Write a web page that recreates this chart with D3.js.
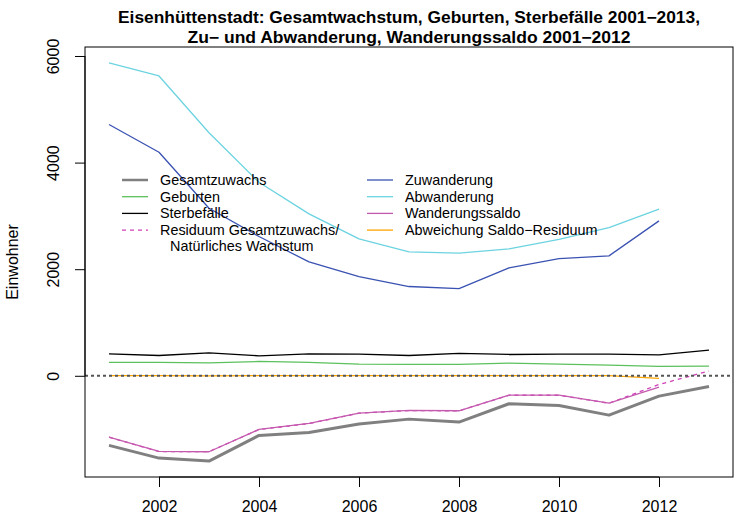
<!DOCTYPE html>
<html>
<head>
<meta charset="utf-8">
<script src="https://cdn.jsdelivr.net/npm/d3@7"></script>
<style>
  body { margin: 0; background: #fff; }
  svg { font-family: "Liberation Sans", Arial, sans-serif; }
</style>
</head>
<body>
<div id="chart"></div>
<script>
// Jahre
const jahre = [2001, 2002, 2003, 2004, 2005, 2006, 2007, 2008, 2009, 2010, 2011, 2012, 2013];
const jahreWanderung = jahre.slice(0, 12);

// Werte
const gesamtzuwachs = [-1306, -1544, -1600, -1119, -1063, -906, -813, -869, -525, -556, -738, -381, -200];
const geburten      = [250, 250, 244, 269, 250, 219, 213, 213, 238, 219, 200, 175, 181];
const sterbefaelle  = [412, 381, 431, 375, 412, 406, 381, 419, 400, 406, 406, 394, 481];
const residuum      = [-1152, -1421, -1423, -1008, -896, -702, -652, -658, -365, -365, -515, -163, 90];
const zuwanderung   = [4715, 4194, 3144, 2613, 2137, 1862, 1675, 1637, 2025, 2200, 2250, 2906];
const abwanderung   = [5870, 5625, 4560, 3630, 3037, 2569, 2325, 2300, 2381, 2560, 2782, 3125];
const saldo         = [-1150, -1419, -1425, -1006, -894, -700, -650, -656, -363, -363, -513, -213];
const abweichung    = [2, 2, -2, 2, 2, 2, 2, 2, 2, 2, 2, -50];

const xTicks = [2002, 2004, 2006, 2008, 2010, 2012];
const yTicks = [0, 2000, 4000, 6000];

const legendeLinks  = ["Gesamtzuwachs", "Geburten", "Sterbefälle", "Residuum Gesamtzuwachs/"];
const legendeRechts = ["Zuwanderung", "Abwanderung", "Wanderungssaldo", "Abweichung Saldo\u2212Residuum"];

const W = 742, H = 525;
const pLeft = 85, pRight = 733, pTop = 47, pBottom = 477;

let svg = d3.select("#chart").append("svg")
  .attr("width", W).attr("height", H);

// R-artige Achsen (4% Rand)
let xPad = (2013 - 2001) * 0.04;
let xScale = d3.scaleLinear()
  .domain([2001 - xPad, 2013 + xPad])
  .range([pLeft, pRight]);

let alle = [].concat(gesamtzuwachs, geburten, sterbefaelle, residuum, zuwanderung, abwanderung, saldo, abweichung);
let yMin = d3.min(alle), yMax = d3.max(alle);
let yPad = (yMax - yMin) * 0.04;
let yScale = d3.scaleLinear()
  .domain([yMin - yPad, yMax + yPad])
  .range([pBottom, pTop]);

// Linien
function zeichne(xs, werte, farbe, breite, dash) {
  let line = d3.line()
    .x((d, i) => xScale(xs[i]))
    .y(d => yScale(d));
  svg.append("path")
    .datum(werte)
    .attr("fill", "none")
    .attr("stroke", farbe)
    .attr("stroke-width", breite)
    .attr("stroke-linejoin", "round")
    .attr("stroke-dasharray", dash || null)
    .attr("d", line);
}

const farben = {
  gesamt: "#808080",
  geb: "#5CC15C",
  sterb: "#000000",
  resid: "#D040B8",
  zu: "#3A52B2",
  ab: "#6CD3E0",
  saldo: "#C45AAE",
  abw: "#FFA500"
};

zeichne(jahre, gesamtzuwachs, farben.gesamt, 3);
zeichne(jahre, geburten, farben.geb, 1.3);
zeichne(jahre, sterbefaelle, farben.sterb, 1.3);
zeichne(jahre, residuum, farben.resid, 1.3, "4,4");
zeichne(jahreWanderung, zuwanderung, farben.zu, 1.3);
zeichne(jahreWanderung, abwanderung, farben.ab, 1.3);
zeichne(jahreWanderung, saldo, farben.saldo, 1.3);
zeichne(jahreWanderung, abweichung, farben.abw, 1.3);

// Nulllinie gepunktet
svg.append("line")
  .attr("x1", pLeft).attr("x2", pRight)
  .attr("y1", yScale(0)).attr("y2", yScale(0))
  .attr("stroke", "#555")
  .attr("stroke-width", 2)
  .attr("stroke-dasharray", "3,3");

// Rahmen
svg.append("rect")
  .attr("x", pLeft).attr("y", pTop)
  .attr("width", pRight - pLeft).attr("height", pBottom - pTop)
  .attr("fill", "none").attr("stroke", "#000").attr("stroke-width", 1);

// x-Achse
let xAxis = svg.append("g")
  .attr("transform", "translate(0," + pBottom + ")")
  .call(d3.axisBottom(xScale).tickValues(xTicks)
    .tickFormat(d3.format("d")).tickSize(10).tickPadding(14));
xAxis.select(".domain").attr("d", "M" + xScale(xTicks[0]) + ",0H" + xScale(xTicks[xTicks.length - 1]));
xAxis.selectAll("text").style("font-size", "16px").attr("fill", "#000");

// y-Achse
let yAxis = svg.append("g")
  .attr("transform", "translate(" + pLeft + ",0)")
  .call(d3.axisLeft(yScale).tickValues(yTicks).tickFormat(d3.format("d")).tickSize(10));
yAxis.select(".domain").attr("d", "M0," + yScale(yTicks[0]) + "V" + yScale(yTicks[yTicks.length - 1]));
yAxis.selectAll("text")
  .style("font-size", "16px")
  .attr("fill", "#000")
  .attr("x", null).attr("dy", null)
  .attr("text-anchor", "middle")
  .attr("transform", "translate(-26,0) rotate(-90)");

svg.append("text")
  .attr("transform", "translate(18," + ((pTop + pBottom) / 2) + ") rotate(-90)")
  .attr("text-anchor", "middle")
  .style("font-size", "16px")
  .text("Einwohner");

// Titel
let titel = svg.append("text")
  .attr("text-anchor", "middle")
  .style("font-size", "16px")
  .style("font-weight", "bold");
titel.append("tspan").attr("x", (pLeft + pRight) / 2).attr("y", 23)
  .attr("textLength", 582).attr("lengthAdjust", "spacingAndGlyphs")
  .text("Eisenhüttenstadt: Gesamtwachstum, Geburten, Sterbefälle 2001\u22122013,");
titel.append("tspan").attr("x", (pLeft + pRight) / 2).attr("y", 43)
  .attr("textLength", 443).attr("lengthAdjust", "spacingAndGlyphs")
  .text("Zu\u2212 und Abwanderung, Wanderungssaldo 2001\u22122012");

// Legende
let legende = svg.append("g");
let linksFarben = [farben.gesamt, farben.geb, farben.sterb, farben.resid];
let linksBreite = [2.5, 1.3, 1.3, 1.3];
let rechtsFarben = [farben.zu, farben.ab, farben.saldo, farben.abw];
let zeile = 16.7, y0 = 180;

legendeLinks.forEach((t, i) => {
  legende.append("line")
    .attr("x1", 122).attr("x2", 148)
    .attr("y1", y0 + i * zeile).attr("y2", y0 + i * zeile)
    .attr("stroke", linksFarben[i]).attr("stroke-width", linksBreite[i])
    .attr("stroke-dasharray", i == 3 ? "4,4" : null);
  legende.append("text")
    .attr("x", 160).attr("y", y0 + i * zeile).attr("dy", "0.35em")
    .style("font-size", "14.4px").text(t);
});
legende.append("text")
  .attr("x", 170).attr("y", y0 + 4 * zeile - 1).attr("dy", "0.35em")
  .style("font-size", "14.4px").text("Natürliches Wachstum");

legendeRechts.forEach((t, i) => {
  legende.append("line")
    .attr("x1", 367).attr("x2", 393)
    .attr("y1", y0 + i * zeile).attr("y2", y0 + i * zeile)
    .attr("stroke", rechtsFarben[i]).attr("stroke-width", 1.3);
  legende.append("text")
    .attr("x", 405).attr("y", y0 + i * zeile).attr("dy", "0.35em")
    .style("font-size", "14.4px").text(t);
});
</script>
</body>
</html>
